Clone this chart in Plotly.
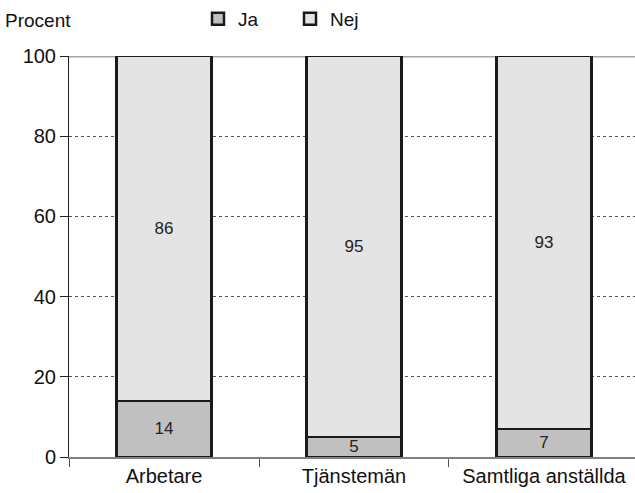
import plotly.graph_objects as go

kategorier = ["Arbetare", "Tjänstemän", "Samtliga anställda"]
ja = [14, 5, 7]
nej = [86, 95, 93]
y_ticks = [0, 20, 40, 60, 80, 100]

fig = go.Figure()
fig.add_trace(go.Bar(
    x=kategorier, y=ja, name="Ja",
    marker=dict(color="#c0c0c0", line=dict(color="#1a1a1a", width=2.5)),
    text=ja, textposition="inside", insidetextanchor="middle", textangle=0,
    textfont=dict(size=17, color="#222"),
))
fig.add_trace(go.Bar(
    x=kategorier, y=nej, name="Nej",
    marker=dict(color="#e3e4e3", line=dict(color="#1a1a1a", width=2.5)),
    text=nej, textposition="inside", insidetextanchor="middle", textangle=0,
    textfont=dict(size=17, color="#222"),
))

# grå linje vid 100
fig.add_shape(type="line", xref="paper", x0=0, x1=1, yref="y", y0=100, y1=100,
              line=dict(color="#a6a6a6", width=3), layer="below")

fig.update_layout(
    width=635, height=493,
    barmode="stack", bargap=0.5,
    plot_bgcolor="white", paper_bgcolor="white",
    font=dict(family="Liberation Sans, Arial, sans-serif", size=20, color="#111"),
    margin=dict(l=69, r=0, t=56, b=36),
    uniformtext=dict(minsize=17, mode="show"),
    showlegend=True,
    legend=dict(orientation="h", xref="container", yref="container",
                x=198 / 635, y=1 - 19 / 493, yanchor="middle", xanchor="left",
                traceorder="normal", entrywidth=47,
                font=dict(size=19), bgcolor="rgba(0,0,0,0)"),
    annotations=[dict(text="Procent", xref="paper", yref="paper", x=-0.116, y=1.057,
                      xanchor="left", yanchor="bottom", showarrow=False,
                      font=dict(size=19))],
)
fig.update_xaxes(range=[-0.5, 2.479], showline=True, linecolor="#808080", linewidth=2,
                 ticks="outside", tickson="boundaries", ticklen=8, tickcolor="#555",
                 showgrid=False, automargin=False)
fig.update_yaxes(range=[0, 100], tickvals=y_ticks, showline=True, linecolor="#222",
                 linewidth=1, ticks="outside", ticklen=8, tickcolor="#222",
                 showgrid=True, gridcolor="#555", griddash="dot", gridwidth=1,
                 zeroline=False, automargin=False)

fig.write_html("out.html", config={"displayModeBar": False},
               post_script="document.body.style.margin='0';")
